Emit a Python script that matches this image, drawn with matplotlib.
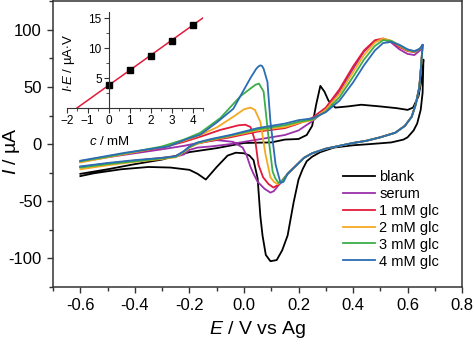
import numpy as np
import matplotlib
matplotlib.use('Agg')
import matplotlib.pyplot as plt
from matplotlib.ticker import MultipleLocator

plt.rcParams['font.family'] = 'sans-serif'
plt.rcParams['font.sans-serif'] = ['Liberation Sans', 'DejaVu Sans']
plt.rcParams['mathtext.fontset'] = 'custom'
plt.rcParams['mathtext.rm'] = 'Liberation Sans'
plt.rcParams['mathtext.it'] = 'Liberation Sans:italic'

# ---- blank CV (forward then return) ----
blank_E = [-0.6, -0.5, -0.4, -0.3, -0.2, -0.1, 0.0, 0.1, 0.15, 0.2, 0.23, 0.25, 0.265, 0.28,
           0.295, 0.31, 0.335, 0.38, 0.43, 0.5, 0.56, 0.6, 0.62, 0.64, 0.65, 0.658,
           0.655, 0.648, 0.635, 0.622, 0.6, 0.585, 0.54, 0.46, 0.4, 0.33, 0.28, 0.25, 0.23,
           0.215, 0.2, 0.182, 0.16, 0.14, 0.12, 0.097, 0.08, 0.068, 0.06, 0.05, 0.035, 0.02,
           0.0, -0.03, -0.06, -0.1, -0.14, -0.17, -0.2, -0.27, -0.35, -0.45, -0.55, -0.6]
blank_I = [-26, -22, -17.5, -13.5, -7, -3.5, 1, 1.5, 4, 4.5, 8, 16, 35, 51,
           46, 38, 32, 33, 34.5, 33, 31.5, 30, 32, 42, 55, 74,
           45, 30, 18, 12, 6, 4, 1.5, 0, -1, -3, -7, -11, -15,
           -22, -31, -51, -80, -93, -101.5, -102.5, -97, -80, -63, -30, -14, -10,
           -8, -7.5, -10, -20, -31, -26, -22.5, -20.5, -20, -22, -25.5, -28]

# ---- glucose / serum CVs ----
fwd_E = [-0.6, -0.5, -0.4, -0.3, -0.25, -0.22, -0.2, -0.17, -0.12, -0.05, 0.05, 0.15, 0.2,
         0.25, 0.3, 0.35, 0.4, 0.44, 0.48, 0.51, 0.54, 0.57, 0.6, 0.625, 0.645, 0.655]
serum_fwd = [-20, -17, -14.5, -12.5, -11, -9, -5, -3, -2, 0, 4, 8, 12,
             20, 30, 46, 66, 81, 90, 92, 89, 83, 79, 78, 82, 86]
g1_fwd = [-20, -17, -14.5, -12, -10.5, -6.5, -2.5, 0.5, 3, 6, 11, 14, 18,
          23, 32, 48, 68, 82, 91, 92.5, 90, 85, 81.5, 80.5, 83.5, 87]
g2_fwd = [-22, -18.5, -15.5, -13, -11.5, -7, -3, 0.5, 3.5, 7, 12, 15, 18.5,
          21, 30, 44, 63, 78, 89, 92.5, 90.5, 86, 82, 81, 83.5, 86.5]
g3_fwd = [-20.5, -17.5, -15, -12.5, -11, -6.5, -2.5, 1, 4, 7.5, 13, 16.5, 19.5,
          21.5, 28.5, 41, 59, 74, 86, 91, 90.5, 86.5, 82.5, 81, 83.5, 86.5]
g4_fwd = [-19.5, -16.5, -14, -12, -10.5, -6, -2, 1.5, 4.5, 8, 14, 18, 21,
          22.5, 28, 38, 54, 69, 82, 88.5, 89.5, 87, 83, 81.5, 83.5, 86.5]

tail_E = [0.655, 0.65, 0.643, 0.63, 0.615, 0.59, 0.555, 0.5, 0.45, 0.4, 0.35, 0.3, 0.25, 0.22, 0.19, 0.16]
tail_I = [87, 70, 50, 35, 24, 16, 10, 6, 3, 1, -1.5, -4, -8, -12, -19, -26]

serum_ret_E = [0.13, 0.11, 0.097, 0.075, 0.05, 0.035, 0.024, 0.01, -0.005, -0.04, -0.1, -0.16,
               -0.22, -0.3, -0.4, -0.5, -0.6]
serum_ret_I = [-35, -41, -42.5, -39, -33, -26, -20, -10, -3, 2, 3.5, 1.5,
               -1.5, -4.5, -8, -11.5, -15.5]
g1_ret_E = [0.13, 0.108, 0.09, 0.07, 0.053, 0.042, 0.024, 0.005, -0.02, -0.086, -0.16,
            -0.22, -0.3, -0.4, -0.5, -0.6]
g1_ret_I = [-35, -38, -35, -29, -18, 2, 15, 17, 16.5, 12.5, 6.5, 2, -3, -7, -11, -15]
g2_ret_E = [0.14, 0.123, 0.11, 0.097, 0.079, 0.06, 0.04, 0.024, 0.0, -0.039, -0.097, -0.16,
            -0.22, -0.3, -0.4, -0.5, -0.6]
g2_ret_I = [-33, -35, -33, -29, -9, 19.5, 30, 32, 30.5, 24, 15, 8, 3, -2.5, -7, -11.5, -16]
g3_ret_E = [0.14, 0.127, 0.115, 0.105, 0.09, 0.072, 0.055, 0.042, 0.02, -0.013, -0.086, -0.16,
            -0.22, -0.3, -0.4, -0.5, -0.6]
g3_ret_I = [-32, -34, -30, -24, 5.5, 46, 53, 52, 48, 42, 23, 10, 4, -2, -6.5, -11, -15]
g4_ret_E = [0.145, 0.134, 0.116, 0.097, 0.086, 0.072, 0.066, 0.06, 0.053, 0.045, 0.024, -0.039,
            -0.097, -0.16, -0.215, -0.277, -0.435, -0.6]
g4_ret_I = [-33, -34, -18, 19.5, 54.5, 66, 68.5, 69, 68, 66, 58, 31,
            19.5, 8.3, 4, -2, -7.5, -14.5]

labels = ['blank', 'serum', '1 mM glc', '2 mM glc', '3 mM glc', '4 mM glc']
colors = ['black', '#9b30aa', '#e31a3c', '#f7a823', '#3cae49', '#2b6cb3']

# ---- inset calibration ----
conc = [0, 1, 2, 3, 4]
IE = [3.8, 6.4, 8.6, 11.2, 13.9]
fit_range = [-1.5, 4.5]

fig = plt.figure(figsize=(4.74, 3.44), dpi=100)
ax = fig.add_axes([0.112, 0.166, 0.863, 0.830])

curves = [(blank_E, blank_I),
          (fwd_E + tail_E + serum_ret_E, serum_fwd + tail_I + serum_ret_I),
          (fwd_E + tail_E + g1_ret_E, g1_fwd + tail_I + g1_ret_I),
          (fwd_E + tail_E + g2_ret_E, g2_fwd + tail_I + g2_ret_I),
          (fwd_E + tail_E + g3_ret_E, g3_fwd + tail_I + g3_ret_I),
          (fwd_E + tail_E + g4_ret_E, g4_fwd + tail_I + g4_ret_I)]
for (E, I), lab, c in zip(curves, labels, colors):
    ax.plot(E, I, color=c, lw=1.3, label=lab, solid_joinstyle='round')

ax.set_xlim(-0.7, 0.8)
ax.set_ylim(-125, 125)
ax.xaxis.set_minor_locator(MultipleLocator(0.1))
ax.yaxis.set_minor_locator(MultipleLocator(25))
ax.set_xticks(np.arange(-0.6, 0.81, 0.2))
ax.set_xticklabels(['-0.6', '-0.4', '-0.2', '0.0', '0.2', '0.4', '0.6', '0.8'])
ax.set_yticks([-100, -50, 0, 50, 100])
ax.set_yticklabels(['-100', '-50', '0', '50', '100'])
ax.tick_params(which='major', direction='out', length=4.5, width=1, labelsize=12, color='#333333')
ax.tick_params(which='minor', direction='out', length=3, width=1, color='#333333')
for s in ax.spines.values():
    s.set_color('#333333')
    s.set_linewidth(1.1)
ax.set_xlabel('$E$ / V vs Ag', fontsize=14, labelpad=4)
ax.set_ylabel('$I$ / µA', fontsize=14)
ax.yaxis.set_label_coords(-0.076, 0.475)

ax.legend(loc='upper left', bbox_to_anchor=(0.711, 0.523), bbox_transform=fig.transFigure,
          frameon=False, fontsize=10.5, handlelength=2.2, handletextpad=0.3,
          labelspacing=0.2, borderaxespad=0)

# ---- inset ----
ins = fig.add_axes([0.1407, 0.686, 0.2876, 0.279])
slope, icpt = np.polyfit(conc, IE, 1)
fx = np.array(fit_range)
ins.plot(fx, slope * fx + icpt, color='#e31a3c', lw=1.1)
ins.plot(conc, IE, 's', color='black', ms=4.5)
ins.set_xlim(-2, 4.5)
ins.set_ylim(0, 16)
ins.spines['left'].set_position(('data', 0))
ins.spines['right'].set_visible(False)
ins.spines['top'].set_visible(False)
for s in ins.spines.values():
    s.set_color('#333333')
ins.set_xticks([-2, -1, 0, 1, 2, 3, 4])
ins.xaxis.set_minor_locator(MultipleLocator(0.5))
ins.set_yticks([5, 10, 15])
ins.yaxis.set_minor_locator(MultipleLocator(2.5))
ins.tick_params(which='major', direction='out', length=3.5, labelsize=8.5, pad=1.5, color='#333333')
ins.tick_params(which='minor', direction='out', length=2, color='#333333')
ins.set_xlabel('$c$ / mM', fontsize=9.5)
ins.set_ylabel('$I$$\\cdot$$E$ / µA$\\cdot$V', fontsize=9.5)
ins.xaxis.set_label_coords(0.31, -0.28)
ins.yaxis.set_label_coords(0.074, 0.47)
ins.patch.set_alpha(0)

fig.savefig('out.png', dpi=100)
